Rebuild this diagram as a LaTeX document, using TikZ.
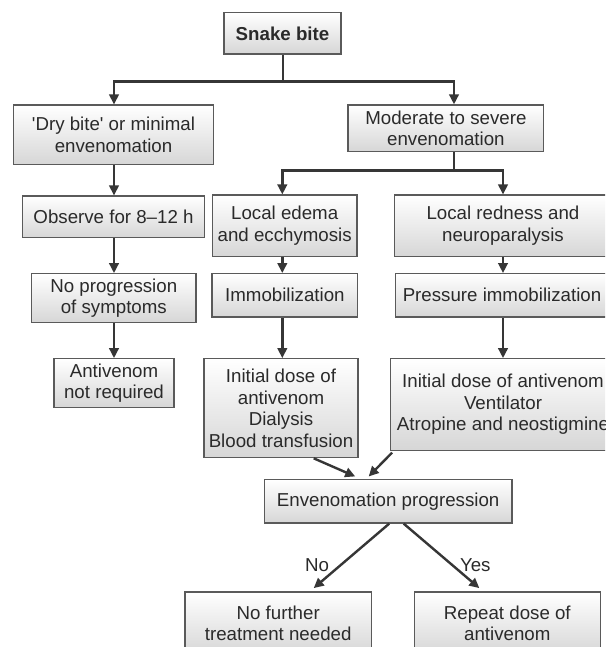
\documentclass[tikz,border=0pt]{standalone}
\usepackage{fontspec}
\setmainfont{Liberation Sans}
\usetikzlibrary{arrows.meta,calc}
\definecolor{boxline}{HTML}{5A5A5A}
\definecolor{arrline}{HTML}{363636}
\definecolor{txt}{HTML}{2A2A2A}
\newcommand\boxfont{\fontsize{18.7}{21.5}\selectfont}
\tikzset{
  fbox/.style={draw=boxline, line width=1.2pt, top color=white, bottom color=black!16,
    align=center, inner sep=0pt, text=txt, font=\boxfont},
  arr/.style={draw=arrline, line width=2.4pt, -{Triangle[length=10pt,width=9.5pt]}},
  ln/.style={draw=arrline, line width=2.4pt},
  lab/.style={text=txt, font=\boxfont, inner sep=0pt}
}
\begin{document}
\begin{tikzpicture}[x=1pt,y=-1pt]
\useasboundingbox (0,0) rectangle (605,647);
\clip (0,0) rectangle (605,647);
\fill[white] (0,0) rectangle (605,647);
% column coordinates
\coordinate (cA) at (114,0);
\coordinate (cB) at (282.3,0);
\coordinate (cC) at (454,0);
\coordinate (cD) at (503,0);
\coordinate (j1) at (282.7,81.7);
\coordinate (j2) at (454,170.7);
% boxes
\node[fbox, minimum width=117pt, minimum height=41.3pt, font=\boxfont\bfseries] (snake) at (282.5,33.4) {Snake bite};
\node[fbox, minimum width=200.4pt, minimum height=59.7pt] (dry) at (113.5,134.9) {\textquotesingle Dry bite\textquotesingle{} or minimal\\envenomation};
\node[fbox, minimum width=195.7pt, minimum height=46.7pt] (mod) at (445.9,128.3) {Moderate to severe\\envenomation};
\node[fbox, minimum width=181.6pt, minimum height=41.7pt] (obs) at (113.5,216.9) {Observe for 8--12 h};
\node[fbox, minimum width=144.7pt, minimum height=61.7pt] (edema) at (284.7,225.9) {Local edema\\and ecchymosis};
\node[fbox, minimum width=217.4pt, minimum height=61.7pt] (red) at (503,225.9) {Local redness and\\neuroparalysis};
\node[fbox, minimum width=164.3pt, minimum height=49pt] (noprog) at (113.8,298.2) {No progression\\of symptoms};
\node[fbox, minimum width=145.7pt, minimum height=43.3pt] (immob) at (284.9,295.3) {Immobilization};
\node[fbox, minimum width=213.4pt, minimum height=43.3pt] (press) at (502,295.3) {Pressure immobilization};
\node[fbox, minimum width=120pt, minimum height=49pt] (antiv) at (114,383.2) {Antivenom\\not required};
\node[fbox, minimum width=154pt, minimum height=99pt] (initL) at (281,408.2) {Initial dose of\\antivenom\\Dialysis\\Blood transfusion};
\node[fbox, minimum width=225.4pt, minimum height=91.6pt] (initR) at (503,404.5) {Initial dose of antivenom\\Ventilator\\Atropine and neostigmine};
\node[fbox, minimum width=247.7pt, minimum height=43.3pt] (env) at (388.2,501.4) {Envenomation progression};
\node[fbox, minimum width=186.3pt, minimum height=63pt] (nofur) at (278.2,623.5) {No further\\treatment needed};
\node[fbox, minimum width=186pt, minimum height=63pt] (rep) at (507.3,623.5) {Repeat dose of\\antivenom};
% connectors
\draw[ln] (snake.south -| j1) -- (j1);
\draw[arr] (j1) -| (dry.north -| cA);
\draw[arr] (j1) -| (mod.north -| cC);
\draw[ln] (mod.south -| cC) -- (j2);
\draw[arr] (j2) -| (edema.north -| cB);
\draw[arr] (j2) -| (red.north -| cD);
\draw[arr] (dry.south -| cA) -- (obs.north -| cA);
\draw[arr] (obs.south -| cA) -- (noprog.north -| cA);
\draw[arr] (noprog.south -| cA) -- (antiv.north -| cA);
\draw[arr] (edema.south -| cB) -- (immob.north -| cB);
\draw[arr] (immob.south -| cB) -- (initL.north -| cB);
\draw[arr] (red.south -| cD) -- (press.north -| cD);
\draw[arr] (press.south -| cD) -- (initR.north -| cD);
\draw[arr] ([xshift=32.7pt]initL.south) -- ([xshift=-33pt,yshift=2.7pt]env.north);
\draw[arr] ([xshift=2.4pt,yshift=-1.7pt]initR.south west) -- ([xshift=-19.5pt,yshift=2.7pt]env.north);
\draw[arr] ([xshift=1pt]env.south) -- ([xshift=35.5pt,yshift=3.3pt]nofur.north);
\draw[arr] ([xshift=15.5pt]env.south) -- ([xshift=-28pt,yshift=3.3pt]rep.north);
\node[lab] (nolab) at (317,564.7) {No};
\node[lab] (yeslab) at (475.3,564.7) {Yes};
\end{tikzpicture}
\end{document}
